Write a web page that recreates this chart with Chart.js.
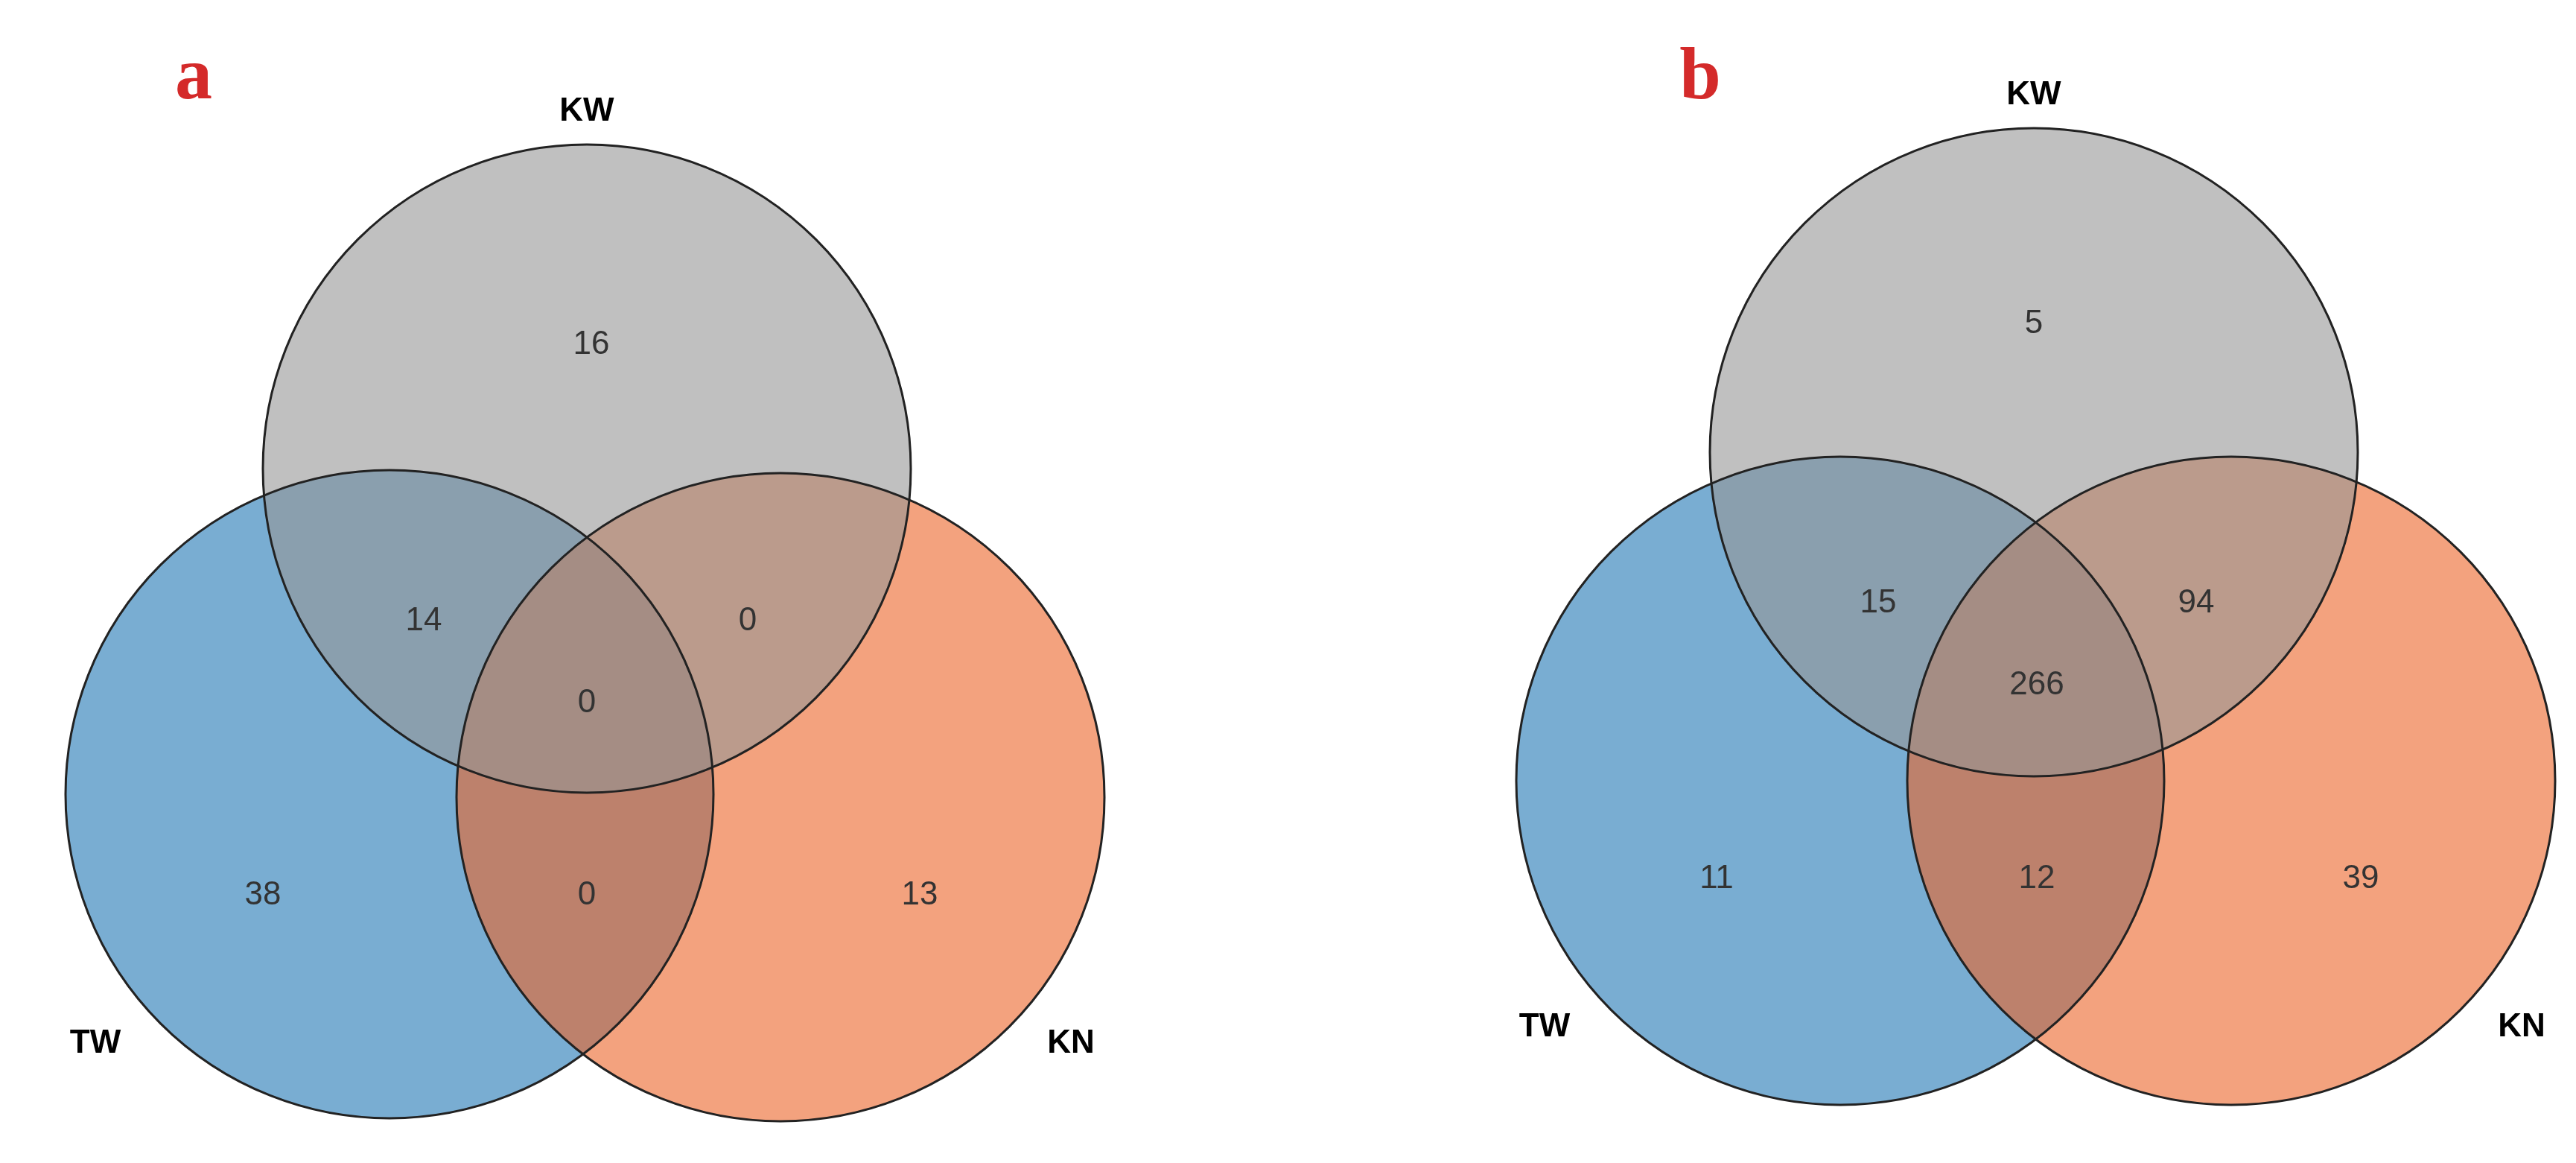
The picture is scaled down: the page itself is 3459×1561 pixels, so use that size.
<!DOCTYPE html><html><head><meta charset="utf-8">
<script src="https://cdn.jsdelivr.net/npm/chart.js@4/dist/chart.umd.min.js"></script>
<style>html,body{margin:0;padding:0;background:#fff}#w{width:3459px;height:1561px}</style></head>
<body><div id="w"><canvas id="c"></canvas></div><script>
const setNames=["KW","TW","KN"];
const setColors=["rgba(150,150,150,0.6)","rgba(31,119,180,0.6)","rgba(235,100,40,0.6)"];
const circlesA=[[788,629],[523,1066],[1048,1070]];
const circlesB=[[2731,607],[2471,1048],[2996,1048]];
const radius=435;
const countsA=[["16",794,463],["14",569,834],["0",1004,834],["0",788,944],["38",353,1202],["0",788,1202],["13",1235,1202]];
const countsB=[["5",2731,435],["15",2522,810],["94",2949,810],["266",2735,920],["11",2305,1180],["12",2735,1180],["39",3170,1180]];
const namePosA=[[788,150],[128,1401],[1438,1401]];
const namePosB=[[2731,128],[2074,1379],[3386,1379]];
const panelLetters=[["a",260,106],["b",2283,106]];
const venn={id:"venn",afterDatasetsDraw(ch){
 const c=ch.ctx,X=ch.scales.x,Y=ch.scales.y;const px=v=>X.getPixelForValue(v),py=v=>Y.getPixelForValue(v);
 const rp=Math.abs(px(radius)-px(0));
 c.save();
 for(const cs of [circlesA,circlesB]){
  for(const i of [1,2,0]){c.beginPath();c.arc(px(cs[i][0]),py(cs[i][1]),rp,0,Math.PI*2);c.fillStyle=setColors[i];c.fill();}
  for(const i of [1,2,0]){c.beginPath();c.arc(px(cs[i][0]),py(cs[i][1]),rp,0,Math.PI*2);c.strokeStyle="#222";c.lineWidth=3;c.stroke();}
 }
 c.textAlign="center";c.textBaseline="middle";c.fillStyle="#333";c.font="44px 'Liberation Sans', Arial";
 for(const t of countsA.concat(countsB))c.fillText(t[0],px(t[1]),py(t[2]));
 c.fillStyle="#000";c.font="bold 44px 'Liberation Sans', Arial";
 for(const P of [namePosA,namePosB])P.forEach((p,i)=>c.fillText(setNames[i],px(p[0]),py(p[1])));
 c.fillStyle="#d42a2a";c.font="bold 100px 'Liberation Serif', serif";
 for(const t of panelLetters)c.fillText(t[0],px(t[1]),py(t[2]));
 c.restore();}};
new Chart(document.getElementById("c"),{type:"scatter",data:{datasets:[{data:[]}]},
 options:{responsive:true,maintainAspectRatio:false,animation:false,layout:{padding:0},
 plugins:{legend:{display:false},tooltip:{enabled:false}},
 scales:{x:{type:"linear",min:0,max:3459,display:false},y:{type:"linear",min:0,max:1561,reverse:true,display:false}}},
 plugins:[venn]});
</script></body></html>
